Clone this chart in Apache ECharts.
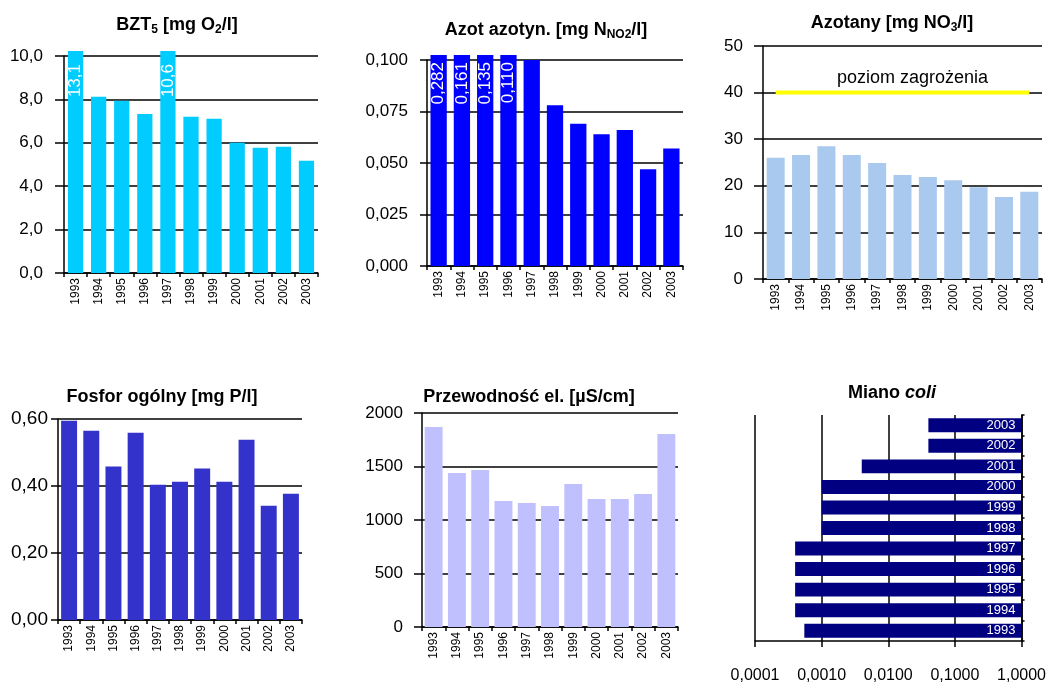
<!DOCTYPE html>
<html>
<head>
<meta charset="utf-8">
<script src="https://cdn.jsdelivr.net/npm/echarts@6/dist/echarts.min.js"></script>
<style>
html,body{margin:0;padding:0;background:#fff;}
#chart{width:1049px;height:685px;}
</style>
</head>
<body>
<div id="chart"></div>
<script>
// ---------- DATA ----------
const years = ['1993','1994','1995','1996','1997','1998','1999','2000','2001','2002','2003'];
const bzt5 = [13.1, 8.12, 7.94, 7.33, 10.6, 7.2, 7.11, 6.0, 5.77, 5.82, 5.17];
const azotAzotyn = [0.282, 0.161, 0.135, 0.110, 0.100, 0.078, 0.069, 0.064, 0.066, 0.047, 0.057];
const azotany = [26.0, 26.6, 28.5, 26.6, 24.9, 22.3, 21.9, 21.2, 19.7, 17.6, 18.7];
const poziomZagrozenia = [40, 40, 40, 40, 40, 40, 40, 40, 40, 40, 40];
const fosfor = [0.595, 0.565, 0.458, 0.559, 0.404, 0.413, 0.452, 0.413, 0.538, 0.341, 0.377];
const przewodnosc = [1869, 1439, 1467, 1178, 1159, 1131, 1336, 1196, 1196, 1243, 1804];
const mianoColi = [0.00055, 0.0004, 0.0004, 0.0004, 0.0004, 0.001, 0.001, 0.001, 0.004, 0.04, 0.04];

const bztTicks = [0, 2, 4, 6, 8, 10];
const azotynTicks = [0, 0.025, 0.05, 0.075, 0.1];
const azotanyTicks = [0, 10, 20, 30, 40, 50];
const fosforTicks = [0, 0.2, 0.4, 0.6];
const przewTicks = [0, 500, 1000, 1500, 2000];
const mianoTicks = [0.0001, 0.001, 0.01, 0.1, 1];

// ---------- STYLE / LAYOUT ----------
const SANS = "'Liberation Sans',Arial,sans-serif";
const fmt = (v, d) => v.toFixed(d).replace('.', ',');

const panels = [
  {data: bzt5, ticks: bztTicks, dec: 1, color: '#00CCFF', grid: {left: 64, top: 56, width: 254, height: 217}, gap: '34%', ySize: 17, yMargin: 21, tick: 9, ovDist: 13, ovSize: 17},
  {data: azotAzotyn, ticks: azotynTicks, dec: 3, color: '#0000FF', grid: {left: 427, top: 60, width: 256, height: 206}, gap: '30%', ySize: 17, yMargin: 19, tick: 7, ovDist: 7, ovSize: 17},
  {data: azotany, ticks: azotanyTicks, dec: 0, color: '#A9C9EF', grid: {left: 763, top: 46, width: 279, height: 233}, gap: '29%', ySize: 17, yMargin: 20, tick: 9, ovDist: 8, ovSize: 17},
  {data: fosfor, ticks: fosforTicks, dec: 2, color: '#3333CC', grid: {left: 58, top: 419, width: 244, height: 201}, gap: '28%', ySize: 19, yMargin: 10, tick: 7, ovDist: 8, ovSize: 17},
  {data: przewodnosc, ticks: przewTicks, dec: 0, color: '#C0C0FF', grid: {left: 422, top: 413, width: 256, height: 214}, gap: '23%', ySize: 17, yMargin: 19, tick: 8, ovDist: 8, ovSize: 17}
];

const grids = [], xAxes = [], yAxes = [], series = [];

panels.forEach((p, i) => {
  const min = p.ticks[0], max = p.ticks[p.ticks.length - 1];
  const interval = p.ticks[1] - p.ticks[0];
  const cap = max * (1 + 5 / p.grid.height);
  grids.push(p.grid);
  xAxes.push({
    type: 'category', gridIndex: i, data: years,
    axisLine: {lineStyle: {color: '#000', width: 1.5}},
    axisTick: {show: true, length: 4, lineStyle: {color: '#000', width: 1.5}},
    axisLabel: {rotate: 90, fontSize: 12, fontFamily: SANS, color: '#000', margin: 5, interval: 0}
  });
  yAxes.push({
    type: 'value', gridIndex: i, min: min, max: max, interval: interval,
    axisLine: {show: true, lineStyle: {color: '#000', width: 1.5}},
    axisTick: {show: true, length: p.tick, lineStyle: {color: '#000', width: 1.5}},
    splitLine: {show: true, lineStyle: {color: '#000', width: 1.5}},
    axisLabel: {fontSize: p.ySize, fontFamily: SANS, color: '#000', margin: p.yMargin,
      formatter: v => fmt(v, p.dec)}
  });
  series.push({
    type: 'bar', xAxisIndex: i, yAxisIndex: i, barCategoryGap: p.gap, clip: false,
    itemStyle: {color: p.color},
    data: p.data.map(v => v > max ? {
      value: cap,
      label: {show: true, formatter: fmt(v, p.dec), position: 'insideTop', rotate: 90,
        align: 'right', verticalAlign: 'middle', distance: p.ovDist,
        color: '#fff', fontSize: p.ovSize, fontFamily: SANS}
    } : v)
  });
});

// threshold line in Azotany panel
series.push({
  type: 'line', xAxisIndex: 2, yAxisIndex: 2, z: 5,
  symbol: 'circle', symbolSize: 0.1, showSymbol: true,
  itemStyle: {color: '#FFFF00'},
  lineStyle: {color: '#FFFF00', width: 4},
  data: poziomZagrozenia.map((v, k) => k === 5 ? {
    value: v,
    label: {show: true, formatter: 'poziom zagrożenia', position: 'top', distance: 6,
      offset: [10, 0], color: '#000', fontSize: 18, fontFamily: SANS}
  } : v)
});

// Miano coli panel (log scale horizontal bars drawn from value to 1)
grids.push({left: 755, top: 415, width: 268, height: 226});
xAxes.push({
  type: 'log', gridIndex: 5, logBase: 10, min: mianoTicks[0], max: mianoTicks[mianoTicks.length - 1],
  axisLine: {show: true, lineStyle: {color: '#000', width: 1.5}},
  axisTick: {show: true, length: 6, lineStyle: {color: '#000', width: 1.5}},
  minorTick: {show: false},
  splitLine: {show: true, lineStyle: {color: '#000', width: 1.5}},
  axisLabel: {fontSize: 16, fontFamily: SANS, color: '#000', margin: 27,
    formatter: v => fmt(v, 4)}
});
yAxes.push({
  type: 'category', gridIndex: 5, data: years, position: 'right', z: 10,
  axisLine: {show: true, lineStyle: {color: '#000', width: 1.5}},
  axisTick: {show: true, length: 3, lineStyle: {color: '#000', width: 1.5}},
  axisLabel: {inside: true, color: '#fff', fontSize: 13, fontFamily: SANS, margin: 6}
});
series.push({
  type: 'custom', xAxisIndex: 5, yAxisIndex: 5, clip: true,
  encode: {x: 0, y: 1},
  data: mianoColi.map((v, k) => [v, k]),
  renderItem: (params, api) => {
    const start = api.coord([api.value(0), api.value(1)]);
    const end = api.coord([mianoTicks[mianoTicks.length - 1], api.value(1)]);
    const h = api.size([0, 1])[1] * 0.68;
    return {type: 'rect', shape: {x: start[0], y: start[1] - h / 2, width: end[0] - start[0], height: h},
      style: {fill: '#000080'}};
  }
});

// titles
const tb = {fontSize: 18, fontWeight: 'bold', fontFamily: SANS, fill: '#000', lineHeight: 22, verticalAlign: 'middle'};
const ts = {fontSize: 12, fontWeight: 'bold', fontFamily: SANS, fill: '#000', lineHeight: 12, verticalAlign: 'bottom'};
const ti = {fontSize: 18, fontWeight: 'bold', fontStyle: 'italic', fontFamily: SANS, fill: '#000', lineHeight: 22, verticalAlign: 'middle'};
const titles = [
  {x: 177, y: 25, text: '{b|BZT}{s|5}{b| [mg O}{s|2}{b|/l]}'},
  {x: 546, y: 30, text: '{b|Azot azotyn. [mg N}{s|NO2}{b|/l]}'},
  {x: 892, y: 23, text: '{b|Azotany [mg NO}{s|3}{b|/l]}'},
  {x: 162, y: 397, text: '{b|Fosfor ogólny [mg P/l]}'},
  {x: 529, y: 397, text: '{b|Przewodność el. [µS/cm]}'},
  {x: 892, y: 393, text: '{b|Miano }{i|coli}'}
];
const graphic = titles.map(t => ({
  type: 'text', x: t.x, y: t.y, z: 100,
  style: {text: t.text, align: 'center', verticalAlign: 'middle', rich: {b: tb, s: ts, i: ti}}
}));

const chart = echarts.init(document.getElementById('chart'), null, {renderer: 'canvas'});
chart.setOption({
  animation: false,
  backgroundColor: '#fff',
  grid: grids, xAxis: xAxes, yAxis: yAxes, series: series, graphic: graphic
});
</script>
</body>
</html>
